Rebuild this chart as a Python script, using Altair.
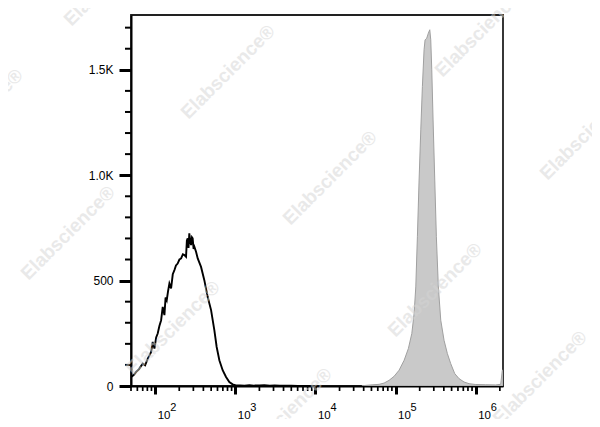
import altair as alt
import pandas as pd

# ---- data ----
neg_x = [50.2, 54.0, 58.0, 63.0, 70.0, 75.0, 80.9, 85.0, 89.2, 93.4,
         98.0, 103.0, 107.7, 113.0, 118.8, 124.4, 130.6, 135.0, 139.6, 145.0,
         150.7, 158.2, 166.0, 174, 182, 191, 201, 211, 222, 232,
         243, 249, 255, 261, 267, 274, 281, 288, 294, 302,
         309, 324, 340, 374, 411, 452, 499, 548, 586, 633,
         696, 767, 843, 927, 1020, 1150, 1300, 1500, 1700, 2000,
         2300, 2700, 3100, 3600, 4200, 5000, 6000, 8000, 10000]
neg_y = [43, 52, 67, 80, 106, 98, 130, 145, 162, 209,
         178, 230, 249, 285, 312, 375, 336, 420, 407, 450,
         486, 463, 530, 550, 572, 581, 600, 605, 625, 621,
         613, 690, 700, 655, 724, 690, 668, 705, 700, 650,
         660, 637, 605, 565, 502, 423, 360, 265, 185, 122,
         75, 43, 19, 8, 3, 3, 2, 4, 2, 3,
         4, 2, 3, 2, 1, 2, 0, 0, 0]

pos_x = [38000, 42600, 62400, 72000, 83100, 95900, 110700, 127900, 144600, 159500,
         170400, 178800, 187200, 196500, 206400, 216100, 226800, 233400, 245000, 256600,
         267200, 274800, 283000, 293700, 308300, 322900, 341800, 366300, 402600, 442800,
         487800, 547000, 619100, 714500, 825700, 1000000, 1333000, 1775000, 2050000, 2148000,
         2190000]
pos_y = [0, 3, 8, 14, 27, 46, 75, 122, 178, 249,
         344, 470, 708, 977, 1215, 1420, 1595, 1642, 1650, 1674,
         1690, 1642, 1500, 1262, 977, 708, 470, 312, 217, 154,
         106, 59, 35, 19, 11, 7, 6, 5, 8, 75,
         75]

x_decades = [10, 100, 1000, 10000, 100000, 1000000]
x_mults = [2, 3, 4, 5, 6, 7, 8, 9]
x_major = [100, 1000, 10000, 100000, 1000000]
x_exponents = ["2", "3", "4", "5", "6"]
x_domain = [50, 2190000]
y_major = [0, 500, 1000, 1500]
y_minor = [100, 200, 300, 400, 600, 700, 800, 900, 1100, 1200, 1300, 1400, 1600, 1700]
y_domain = [0, 1760]

x_minor = [d * m for d in x_decades for m in x_mults if x_domain[0] <= d * m <= x_domain[1]]

neg_df = pd.DataFrame({"x": neg_x, "y": neg_y})
pos_df = pd.DataFrame({"x": pos_x, "y": pos_y})
xminor_df = pd.DataFrame({"x": x_minor})
yminor_df = pd.DataFrame({"y": y_minor})
xmajor_df = pd.DataFrame({"x": x_major, "t": x_exponents})

FONT = "Liberation Sans"

x_axis = alt.Axis(
    values=x_major,
    labelExpr="'10'",
    tickSize=8, tickWidth=3, ticks=True,
    tickColor="black", domainColor="black", domainWidth=2,
    labelFont=FONT, labelFontSize=11.5, labelColor="black",
    labelAlign="left", labelOffset=2, labelPadding=24, labelBaseline="alphabetic",
    labelFlush=False, labelOverlap=False, labelBound=False,
    grid=False, title=None,
)

y_axis = alt.Axis(
    values=y_major,
    labelExpr=("datum.value == 0 ? '0' : datum.value == 500 ? '500' : "
               "datum.value == 1000 ? '1.0K' : '1.5K'"),
    tickSize=12, tickWidth=3, ticks=True,
    tickColor="black", domainColor="black", domainWidth=2,
    labelFont=FONT, labelFontSize=12, labelColor="black",
    labelPadding=6, labelFlush=False, labelOverlap=False, labelBound=False,
    grid=False, title=None,
)

xs = alt.Scale(type="log", domain=x_domain, nice=False)
ys = alt.Scale(domain=y_domain, nice=False)

X = alt.X("x:Q", scale=xs, axis=x_axis)
Y = alt.Y("y:Q", scale=ys, axis=y_axis)

area = alt.Chart(pos_df).mark_area(
    fill="#c9c9c9", stroke="#a0a0a0", strokeWidth=1, clip=True, interpolate="linear"
).encode(x=X, y=Y)

line = alt.Chart(neg_df).mark_line(
    color="black", strokeWidth=1.9, clip=True, interpolate="linear"
).encode(x=X, y=Y)

# minor axis ticks
xminor = alt.Chart(xminor_df).mark_tick(
    color="black", orient="vertical", size=5, thickness=1.7, opacity=1
).encode(x=X, y=alt.value(373.5))
yminor = alt.Chart(yminor_df).mark_tick(
    color="black", orient="horizontal", size=6, thickness=2, opacity=1
).encode(y=Y, x=alt.value(-3))

# superscript exponents of the 10^n labels
sup = alt.Chart(xmajor_df).mark_text(
    font=FONT, fontSize=11, color="black", align="left", baseline="alphabetic", dx=15
).encode(x=X, y=alt.value(396), text="t:N")

# watermark decoration (pixel positions relative to plot area)
wm_positions = [(-20, -36), (97, 57), (-155, 101), (351, 15), (456, 118),
                (199, 163), (-63, 218), (42, 313), (304, 275), (409, 363), (154, 400)]
dummy = pd.DataFrame({"t": ["Elabscience®"]})
wms = []
for (wx, wy) in wm_positions:
    wms.append(
        alt.Chart(dummy).mark_text(
            font=FONT, fontSize=19, fontWeight="bold", color="#d4d4d4", opacity=0.5,
            angle=315, align="center", baseline="middle"
        ).encode(x=alt.value(wx), y=alt.value(wy), text="t:N")
    )

chart = alt.layer(area, line, xminor, yminor, sup, *wms).properties(
    width=372, height=371,
    autosize=alt.AutoSizeParams(type="none"),
    padding={"left": 123, "top": 7, "right": 89, "bottom": 33},
).configure_view(stroke="#222222", strokeWidth=1.8)

chart.save("out.html", embed_options={"renderer": "svg", "actions": False})
